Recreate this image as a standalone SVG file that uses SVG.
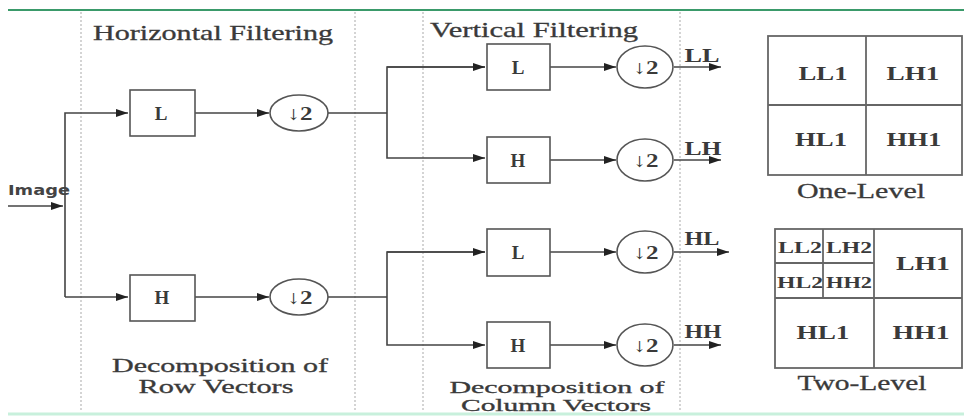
<svg xmlns="http://www.w3.org/2000/svg" width="964" height="416" viewBox="0 0 964 416">
<style>
.t{font-family:"Liberation Serif",serif;fill:#3a3a3a;text-anchor:middle}
.h{font-size:21px;stroke:#3a3a3a;stroke-width:0.3}
.h2{font-size:18px}
.h3{font-size:16px}
.n{font-size:19px;font-weight:bold}
.s{font-size:16px;font-weight:bold}
.c{fill:none;stroke:#444;stroke-width:1.6}
.b{fill:#fff;stroke:#555;stroke-width:1.6}
.g{fill:none;stroke:#666;stroke-width:1.8}
.d{stroke:#d4d4d4;stroke-width:2;stroke-dasharray:2 2}
</style>
<defs>
<marker id="a" viewBox="0 0 12 8" refX="12" refY="4" markerWidth="12" markerHeight="8" markerUnits="userSpaceOnUse" orient="auto"><path d="M0,0 L12,4 L0,8 Z" fill="#222"/></marker>
</defs>
<rect width="964" height="416" fill="#fff"/>
<line x1="8" y1="10" x2="964" y2="10" stroke="#3a9a6a" stroke-width="2"/>
<line x1="8" y1="414" x2="964" y2="414" stroke="#c8f0dc" stroke-width="3"/>
<g id="separators">
<line class="d" x1="81" y1="12" x2="81" y2="412"/>
<line class="d" x1="355" y1="12" x2="355" y2="412"/>
<line class="d" x1="423" y1="12" x2="423" y2="412"/>
<line class="d" x1="680" y1="12" x2="680" y2="412"/>
</g>
<g id="titles">
<text class="t h" x="213" y="40" textLength="240" lengthAdjust="spacingAndGlyphs">Horizontal Filtering</text>
<text class="t h" x="534" y="37" textLength="208" lengthAdjust="spacingAndGlyphs">Vertical Filtering</text>
<text class="t h h2" x="220" y="372" textLength="216" lengthAdjust="spacingAndGlyphs">Decomposition of</text>
<text class="t h h2" x="216" y="393" textLength="155" lengthAdjust="spacingAndGlyphs">Row Vectors</text>
<text class="t h h3" x="557" y="393" textLength="215" lengthAdjust="spacingAndGlyphs">Decomposition of</text>
<text class="t h h3" x="556" y="411" textLength="190" lengthAdjust="spacingAndGlyphs">Column Vectors</text>
<text x="8" y="195" font-family="DejaVu Sans, sans-serif" font-size="14" font-weight="bold" fill="#444" textLength="62" lengthAdjust="spacingAndGlyphs">Image</text>
</g>
<g id="connectors">
<line class="c" x1="8" y1="206" x2="63" y2="206" marker-end="url(#a)"/>
<polyline class="c" points="65,297 65,113 128,113" marker-end="url(#a)"/>
<line class="c" x1="65" y1="297" x2="128" y2="297" marker-end="url(#a)"/>
<line class="c" x1="195" y1="113" x2="269" y2="113" marker-end="url(#a)"/>
<line class="c" x1="195" y1="297" x2="269" y2="297" marker-end="url(#a)"/>
<polyline class="c" points="328,113 387,113"/>
<polyline class="c" points="485,67 387,67 387,158 485,158" marker-end="url(#a)"/>
<line class="c" x1="387" y1="67" x2="485" y2="67" marker-end="url(#a)"/>
<polyline class="c" points="328,297 387,297"/>
<polyline class="c" points="485,252 387,252 387,345 485,345" marker-end="url(#a)"/>
<line class="c" x1="387" y1="252" x2="485" y2="252" marker-end="url(#a)"/>
<line class="c" x1="550" y1="67" x2="616" y2="67" marker-end="url(#a)"/>
<line class="c" x1="550" y1="160" x2="616" y2="160" marker-end="url(#a)"/>
<line class="c" x1="550" y1="252" x2="616" y2="252" marker-end="url(#a)"/>
<line class="c" x1="550" y1="345" x2="616" y2="345" marker-end="url(#a)"/>
<line class="c" x1="674" y1="67" x2="721" y2="67" marker-end="url(#a)"/>
<line class="c" x1="674" y1="160" x2="721" y2="160" marker-end="url(#a)"/>
<line class="c" x1="674" y1="252" x2="729" y2="252" marker-end="url(#a)"/>
<line class="c" x1="674" y1="345" x2="721" y2="345" marker-end="url(#a)"/>
</g>
<g id="hL"><rect class="b" x="130" y="90" width="65" height="46"/><text class="t n" x="161" y="120">L</text></g>
<g id="hH"><rect class="b" x="130" y="275" width="65" height="46"/><text class="t n" x="162" y="304">H</text></g>
<g id="hD1"><ellipse class="b" cx="299" cy="113" rx="29" ry="18"/><text class="t n" x="300" y="120" textLength="25" lengthAdjust="spacingAndGlyphs">↓2</text></g>
<g id="hD2"><ellipse class="b" cx="299" cy="297" rx="29" ry="18"/><text class="t n" x="300" y="304" textLength="25" lengthAdjust="spacingAndGlyphs">↓2</text></g>
<g id="vL1"><rect class="b" x="487" y="44" width="63" height="46"/><text class="t n" x="518" y="74">L</text></g>
<g id="vH1"><rect class="b" x="487" y="137" width="63" height="46"/><text class="t n" x="518" y="167">H</text></g>
<g id="vL2"><rect class="b" x="487" y="229" width="63" height="47"/><text class="t n" x="518" y="259">L</text></g>
<g id="vH2"><rect class="b" x="487" y="322" width="63" height="46"/><text class="t n" x="518" y="352">H</text></g>
<g id="vD1"><ellipse class="b" cx="645" cy="67" rx="28" ry="21"/><text class="t n" x="646" y="74" textLength="25" lengthAdjust="spacingAndGlyphs">↓2</text></g>
<g id="vD2"><ellipse class="b" cx="645" cy="160" rx="28" ry="21"/><text class="t n" x="646" y="167" textLength="25" lengthAdjust="spacingAndGlyphs">↓2</text></g>
<g id="vD3"><ellipse class="b" cx="645" cy="252" rx="28" ry="21"/><text class="t n" x="646" y="259" textLength="25" lengthAdjust="spacingAndGlyphs">↓2</text></g>
<g id="vD4"><ellipse class="b" cx="645" cy="345" rx="28" ry="21"/><text class="t n" x="646" y="352" textLength="25" lengthAdjust="spacingAndGlyphs">↓2</text></g>
<g id="outlabels">
<text class="t n" x="702" y="62" textLength="35" lengthAdjust="spacingAndGlyphs">LL</text>
<text class="t n" x="703" y="155" textLength="37" lengthAdjust="spacingAndGlyphs">LH</text>
<text class="t n" x="702" y="245" textLength="35" lengthAdjust="spacingAndGlyphs">HL</text>
<text class="t n" x="703" y="338" textLength="37" lengthAdjust="spacingAndGlyphs">HH</text>
</g>
<g id="oneLevel">
<rect class="g" x="768" y="36" width="194" height="139"/>
<line class="g" x1="866" y1="36" x2="866" y2="175"/>
<line class="g" x1="768" y1="105" x2="962" y2="105"/>
<text class="t n" x="823" y="80" textLength="49" lengthAdjust="spacingAndGlyphs">LL1</text>
<text class="t n" x="913" y="80" textLength="53" lengthAdjust="spacingAndGlyphs">LH1</text>
<text class="t n" x="821" y="146" textLength="52" lengthAdjust="spacingAndGlyphs">HL1</text>
<text class="t n" x="914" y="146" textLength="55" lengthAdjust="spacingAndGlyphs">HH1</text>
<text class="t h" x="861" y="198" textLength="128" lengthAdjust="spacingAndGlyphs">One-Level</text>
</g>
<g id="twoLevel">
<rect class="g" x="775" y="229" width="187" height="139"/>
<line class="g" x1="874" y1="229" x2="874" y2="368"/>
<line class="g" x1="775" y1="298" x2="962" y2="298"/>
<line class="g" x1="823" y1="229" x2="823" y2="298"/>
<line class="g" x1="775" y1="263" x2="874" y2="263"/>
<text class="t s" x="800" y="253" textLength="44" lengthAdjust="spacingAndGlyphs">LL2</text>
<text class="t s" x="849" y="253" textLength="46" lengthAdjust="spacingAndGlyphs">LH2</text>
<text class="t s" x="800" y="288" textLength="46" lengthAdjust="spacingAndGlyphs">HL2</text>
<text class="t s" x="849" y="288" textLength="46" lengthAdjust="spacingAndGlyphs">HH2</text>
<text class="t n" x="923" y="270" textLength="54" lengthAdjust="spacingAndGlyphs">LH1</text>
<text class="t n" x="823" y="339" textLength="53" lengthAdjust="spacingAndGlyphs">HL1</text>
<text class="t n" x="921" y="339" textLength="57" lengthAdjust="spacingAndGlyphs">HH1</text>
<text class="t h" x="862" y="390" textLength="129" lengthAdjust="spacingAndGlyphs">Two-Level</text>
</g>
</svg>
